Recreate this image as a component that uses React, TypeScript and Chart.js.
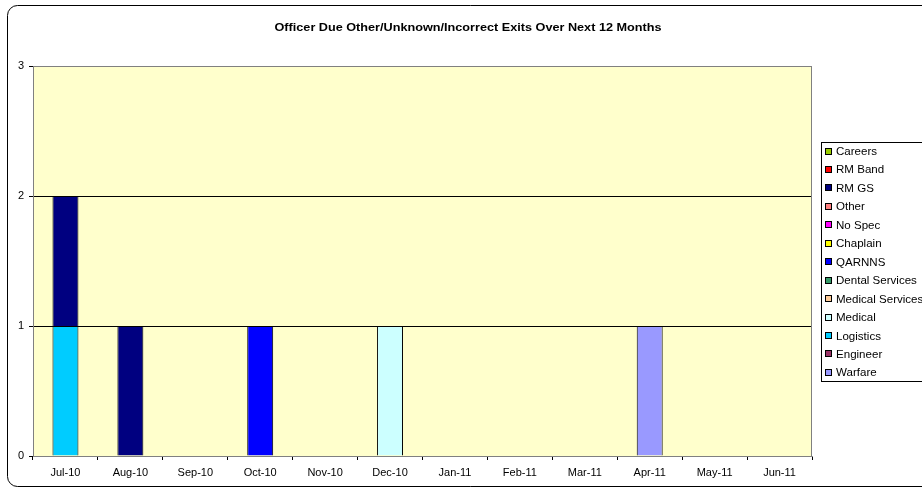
import React, { useEffect, useRef } from "react";
import { Chart, registerables } from "chart.js";

Chart.register(...registerables);

const TITLE = "Officer Due Other/Unknown/Incorrect Exits Over Next 12 Months";
const months = ["Jul-10", "Aug-10", "Sep-10", "Oct-10", "Nov-10", "Dec-10", "Jan-11", "Feb-11", "Mar-11", "Apr-11", "May-11", "Jun-11"];
const yTicks = [0, 1, 2, 3];

// stacking order bottom -> top
const warfare = [0, 0, 0, 0, 0, 0, 0, 0, 0, 1, 0, 0];
const engineer = [0, 0, 0, 0, 0, 0, 0, 0, 0, 0, 0, 0];
const logistics = [1, 0, 0, 0, 0, 0, 0, 0, 0, 0, 0, 0];
const medical = [0, 0, 0, 0, 0, 1, 0, 0, 0, 0, 0, 0];
const medicalServices = [0, 0, 0, 0, 0, 0, 0, 0, 0, 0, 0, 0];
const dentalServices = [0, 0, 0, 0, 0, 0, 0, 0, 0, 0, 0, 0];
const qarnns = [0, 0, 0, 1, 0, 0, 0, 0, 0, 0, 0, 0];
const chaplain = [0, 0, 0, 0, 0, 0, 0, 0, 0, 0, 0, 0];
const noSpec = [0, 0, 0, 0, 0, 0, 0, 0, 0, 0, 0, 0];
const other = [0, 0, 0, 0, 0, 0, 0, 0, 0, 0, 0, 0];
const rmGs = [1, 1, 0, 0, 0, 0, 0, 0, 0, 0, 0, 0];
const rmBand = [0, 0, 0, 0, 0, 0, 0, 0, 0, 0, 0, 0];
const careers = [0, 0, 0, 0, 0, 0, 0, 0, 0, 0, 0, 0];

const seriesNames = ["Warfare", "Engineer", "Logistics", "Medical", "Medical Services", "Dental Services", "QARNNS", "Chaplain", "No Spec", "Other", "RM GS", "RM Band", "Careers"];
const seriesValues = [warfare, engineer, logistics, medical, medicalServices, dentalServices, qarnns, chaplain, noSpec, other, rmGs, rmBand, careers];
const seriesColors = ["#9999FF", "#993366", "#00CCFF", "#CCFFFF", "#FFCC99", "#339966", "#0000FF", "#FFFF00", "#FF00FF", "#FF8080", "#000080", "#FF0000", "#99CC00"];

const FONT = "'Liberation Sans', Arial, sans-serif";

const decorPlugin = {
  id: "decor",
  beforeDraw(chart: any) {
    const { ctx, chartArea: a } = chart;
    ctx.save();
    ctx.fillStyle = "#ffffff";
    ctx.fillRect(0, 0, chart.width, chart.height);
    // outer rounded frame
    ctx.strokeStyle = "#000000";
    ctx.lineWidth = 1;
    const x0 = 7.5, y0 = 5.5, x1 = 940, y1 = 486.5, r = 10;
    ctx.beginPath();
    ctx.moveTo(x0 + r, y0);
    ctx.lineTo(x1 - r, y0);
    ctx.arcTo(x1, y0, x1, y0 + r, r);
    ctx.lineTo(x1, y1 - r);
    ctx.arcTo(x1, y1, x1 - r, y1, r);
    ctx.lineTo(x0 + r, y1);
    ctx.arcTo(x0, y1, x0, y1 - r, r);
    ctx.lineTo(x0, y0 + r);
    ctx.arcTo(x0, y0, x0 + r, y0, r);
    ctx.closePath();
    ctx.stroke();
    // plot background
    ctx.fillStyle = "#FFFFCC";
    ctx.fillRect(a.left, a.top, a.right - a.left, a.bottom - a.top);
    // title, stretched horizontally to match the reference width
    ctx.fillStyle = "#000000";
    ctx.font = `bold 11.5px ${FONT}`;
    ctx.textAlign = "center";
    ctx.textBaseline = "middle";
    const w = ctx.measureText(TITLE).width;
    const sx = 387 / w;
    ctx.translate(468, 28);
    ctx.scale(sx, 1);
    ctx.fillText(TITLE, 0, 0);
    ctx.restore();
  },
  afterDatasetsDraw(chart: any) {
    const { ctx, chartArea: a } = chart;
    ctx.save();
    ctx.strokeStyle = "#808080";
    ctx.lineWidth = 1;
    ctx.strokeRect(Math.round(a.left) + 0.5, Math.round(a.top) + 0.5, Math.round(a.right - a.left) - 1, Math.round(a.bottom - a.top));
    // legend
    const lx = 821.5, ly = 142.5, lh = 239;
    ctx.fillStyle = "#ffffff";
    ctx.fillRect(lx, ly, 200, lh);
    ctx.strokeStyle = "#000000";
    ctx.strokeRect(lx, ly, 200, lh);
    ctx.font = `11px ${FONT}`;
    ctx.textAlign = "left";
    ctx.textBaseline = "middle";
    const n = seriesNames.length;
    for (let i = 0; i < n; i++) {
      const idx = n - 1 - i;
      const cy = 151.5 + i * 18.45;
      ctx.fillStyle = seriesColors[idx];
      ctx.fillRect(825, Math.round(cy - 4), 7, 7);
      ctx.strokeStyle = "#000000";
      ctx.strokeRect(825.5, Math.round(cy - 4) + 0.5, 6, 6);
      ctx.fillStyle = "#000000";
      ctx.save();
      ctx.translate(836, cy + 0.5);
      ctx.scale(1.05, 1);
      ctx.fillText(seriesNames[idx], 0, 0);
      ctx.restore();
    }
    ctx.restore();
  },
};

export default function App() {
  const ref = useRef<HTMLCanvasElement>(null);
  useEffect(() => {
    document.body.style.margin = "0";
    const canvas = ref.current!;
    const datasets = seriesNames.map((name, i) => ({
      label: name,
      data: seriesValues[i].map((v) => (v === 0 ? null : v)),
      backgroundColor: seriesColors[i],
      borderColor: "#000000",
      borderWidth: 1,
      barPercentage: 0.4,
      categoryPercentage: 1,
    }));
    const chart = new Chart(canvas, {
      type: "bar",
      data: { labels: months, datasets },
      plugins: [decorPlugin],
      options: {
        animation: false,
        responsive: false,
        maintainAspectRatio: false,
        layout: { padding: { top: 66, right: 110, left: 0, bottom: 0 } },
        plugins: { legend: { display: false }, title: { display: false }, tooltip: { enabled: false } },
        scales: {
          x: {
            stacked: true,
            offset: true,
            afterFit: (s: any) => { s.height = 32; },
            grid: { offset: true, drawOnChartArea: false, drawTicks: true, tickLength: 4, tickColor: "#000000", color: "#000000" },
            border: { display: true, color: "#808080" },
            ticks: { color: "#000000", font: { family: FONT, size: 11 }, padding: 6, maxRotation: 0, autoSkip: false },
          },
          y: {
            stacked: true,
            min: 0,
            max: 3,
            afterFit: (s: any) => { s.width = 33; },
            afterBuildTicks: (s: any) => { s.ticks = yTicks.map((v) => ({ value: v })); },
            grid: {
              color: (c: any) => (c.tick && (c.tick.value === 1 || c.tick.value === 2) ? "#000000" : "rgba(0,0,0,0)"),
              tickColor: "#000000",
              tickLength: 4,
              drawTicks: true,
            },
            border: { display: true, color: "#808080" },
            ticks: { color: "#000000", font: { family: FONT, size: 11 }, padding: 5 },
          },
        },
      },
    });
    return () => chart.destroy();
  }, []);
  return (
    <div style={{ width: 922, height: 488, position: "relative" }}>
      <canvas ref={ref} width={922} height={488} style={{ display: "block" }} />
    </div>
  );
}
